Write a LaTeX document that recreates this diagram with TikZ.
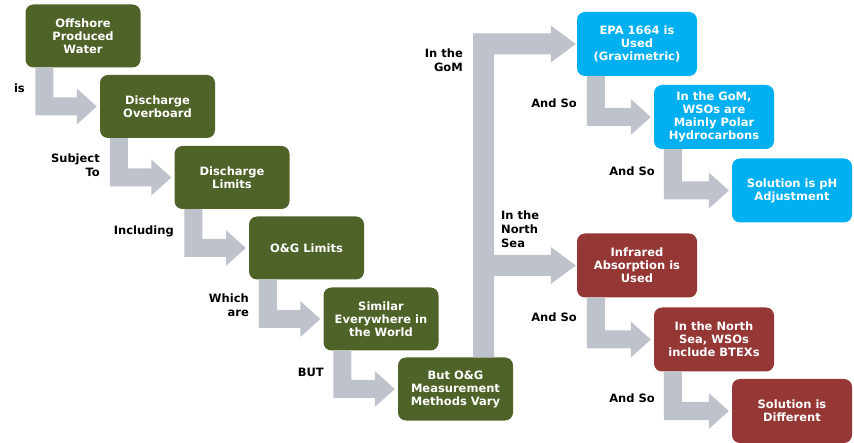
\documentclass[tikz,border=0pt]{standalone}
\usepackage{fontspec}
\setmainfont{DejaVu Sans}
\usetikzlibrary{calc}
\definecolor{boxgreen}{HTML}{4F6228}
\definecolor{boxblue}{HTML}{00B0F0}
\definecolor{boxred}{HTML}{953735}
\definecolor{arrgray}{HTML}{BEC2CB}
\newcommand{\blockarrow}[2]{%
  \fill[arr] let \p1=(#1.south west), \p2=(#2.west) in
  ({\x1+10pt},{\y1}) -- ({\x1+28pt},{\y1}) -- ({\x1+28pt},{\y2+9pt}) --
  ({\x2-23pt},{\y2+9pt}) -- ({\x2-23pt},{\y2+18pt}) -- ({\x2-3pt},{\y2}) --
  ({\x2-23pt},{\y2-18pt}) -- ({\x2-23pt},{\y2-9pt}) -- ({\x1+10pt},{\y2-9pt}) -- cycle;}
\begin{document}
\begin{tikzpicture}[x=1pt,y=-1pt,
  boxbase/.style={rounded corners=8pt, minimum width=115pt, minimum height=63pt, inner sep=2pt, align=center, text=white, font=\fontsize{11.5}{13}\selectfont\bfseries},
  gbox/.style={boxbase, fill=boxgreen},
  bbox/.style={boxbase, fill=boxblue, minimum width=120pt, minimum height=64pt},
  rbox/.style={boxbase, fill=boxred, minimum width=120pt, minimum height=64pt},
  lbl/.style={font=\fontsize{11.5}{14}\selectfont\bfseries, inner sep=0pt, text=black},
  arr/.style={fill=arrgray}]
\useasboundingbox (0,0) rectangle (854,443);
% green chain
\node[gbox] (g1) at (83,36) {Offshore\\Produced\\Water};
\node[gbox] (g2) at (157.5,106.5) {Discharge\\Overboard};
\node[gbox] (g3) at (232,177.5) {Discharge\\Limits};
\node[gbox] (g4) at (306.5,248) {O\&G Limits};
\node[gbox] (g5) at (381,319) {Similar\\Everywhere in\\the World};
\node[gbox] (g6) at (455.5,389) {But O\&G\\Measurement\\Methods Vary};
% blue chain
\node[bbox] (b1) at (637,44) {EPA 1664 is\\Used\\(Gravimetric)};
\node[bbox] (b2) at (714,117) {In the GoM,\\WSOs are\\Mainly Polar\\Hydrocarbons};
\node[bbox] (b3) at (792,190.5) {Solution is pH\\Adjustment};
% red chain
\node[rbox] (r1) at (637,265.5) {Infrared\\Absorption is\\Used};
\node[rbox] (r2) at (714,339.5) {In the North\\Sea, WSOs\\include BTEXs};
\node[rbox] (r3) at (792,411) {Solution is\\Different};
% arrows
\blockarrow{g1}{g2}
\blockarrow{g2}{g3}
\blockarrow{g3}{g4}
\blockarrow{g4}{g5}
\blockarrow{g5}{g6}
\blockarrow{b1}{b2}
\blockarrow{b2}{b3}
\blockarrow{r1}{r2}
\blockarrow{r2}{r3}
\fill[arr] let \p1=(g6.north east), \p2=(b1.west), \p3=(r1.west) in
  ({\x1-40pt},{\y1}) -- ({\x1-40pt},{\y2+10.5pt}) -- ({\x2-26pt},{\y2+10.5pt}) --
  ({\x2-26pt},{\y2+18.5pt}) -- ({\x2-1pt},{\y2}) -- ({\x2-26pt},{\y2-18.5pt}) --
  ({\x2-26pt},{\y2-10.5pt}) -- ({\x1-19pt},{\y2-10.5pt}) -- ({\x1-19pt},{\y3+10.5pt}) --
  ({\x3-26pt},{\y3+10.5pt}) -- ({\x3-26pt},{\y3+18.5pt}) -- ({\x3-1pt},{\y3}) --
  ({\x3-26pt},{\y3-18.5pt}) -- ({\x3-26pt},{\y3-10.5pt}) -- ({\x1-19pt},{\y3-10.5pt}) --
  ({\x1-19pt},{\y1}) -- cycle;
% labels
\node[lbl, anchor=east] (l1) at (25,88) {is};
\node[lbl, anchor=east, align=right] (l2) at (100,165) {Subject\\To};
\node[lbl, anchor=east] (l3) at (174,231) {Including};
\node[lbl, anchor=east, align=right] (l4) at (249,305) {Which\\are};
\node[lbl, anchor=east] (l5) at (324,372) {BUT};
\node[lbl, anchor=east, align=right] (l6) at (463,60) {In the\\GoM};
\node[lbl, anchor=west, align=left] (l7) at (501,229) {In the\\North\\Sea};
\node[lbl] (l8) at (554,103) {And So};
\node[lbl] (l9) at (632,171) {And So};
\node[lbl] (l10) at (554,317) {And So};
\node[lbl] (l11) at (632,398) {And So};
\end{tikzpicture}
\end{document}
